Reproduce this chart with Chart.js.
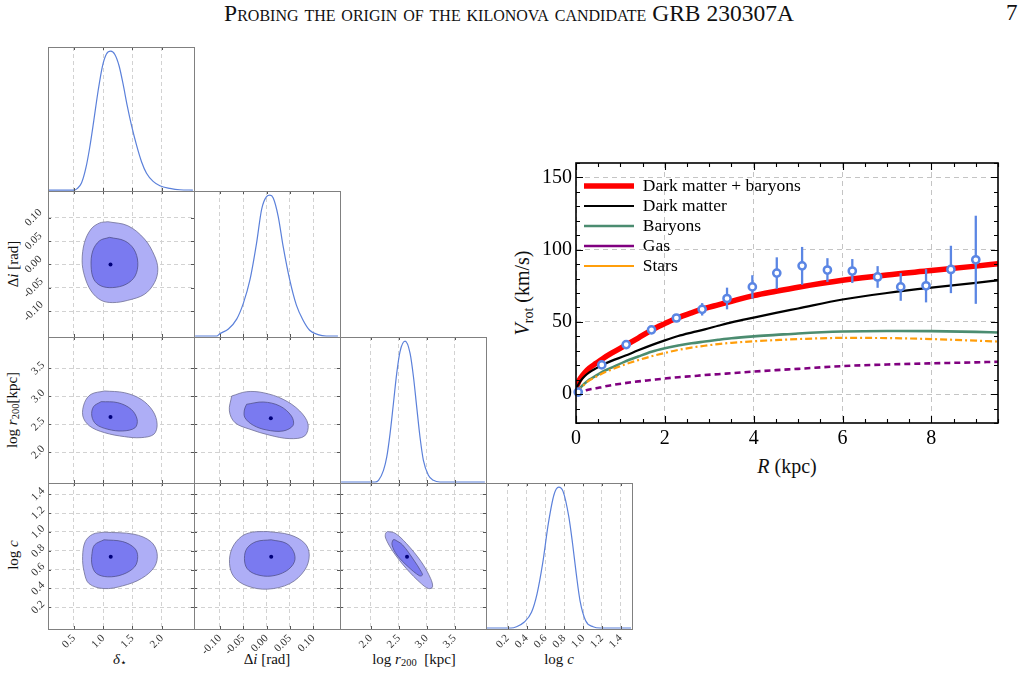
<!DOCTYPE html>
<html><head><meta charset="utf-8">
<script src="https://cdn.jsdelivr.net/npm/chart.js@4.4.1/dist/chart.umd.min.js"></script>
<style>
html,body{margin:0;padding:0;background:#fff;}
#page{position:relative;width:1028px;height:675px;overflow:hidden;background:#fff;font-family:'Liberation Serif',serif;color:#111;}
#page canvas{position:absolute;}
.lbl{position:absolute;white-space:nowrap;line-height:1;transform:translate(-50%,-50%);}
.rot{transform:translate(-50%,-50%) rotate(-90deg);}
.lbl sub{font-size:70%;vertical-align:-0.28em;line-height:0;}
#header{position:absolute;left:0;top:0;width:1018px;text-align:center;font-size:23.5px;line-height:26px;font-variant:small-caps;color:#111;}
#pnum{position:absolute;left:1006px;top:0;font-size:23px;line-height:26px;color:#111;}
</style></head><body><div id="page">
<div id="header">Probing the origin of the kilonova candidate GRB 230307A</div>
<div id="pnum">7</div>
<div class="lbl" style="left:120px;top:659px;font-size:15px;"><i>δ</i><sub>⋆</sub></div>
<div class="lbl" style="left:267px;top:659px;font-size:15px;">Δ<i>i</i> [rad]</div>
<div class="lbl" style="left:414px;top:659px;font-size:15px;">log <i>r</i><sub>200</sub>&nbsp;&nbsp;[kpc]</div>
<div class="lbl" style="left:559px;top:659px;font-size:15px;">log <i>c</i></div>
<div class="lbl rot" style="left:13px;top:264px;font-size:15px;">Δ<i>i</i> [rad]</div>
<div class="lbl rot" style="left:12px;top:410px;font-size:15px;">log <i>r</i><sub>200</sub>[kpc]</div>
<div class="lbl rot" style="left:13px;top:555px;font-size:15px;">log <i>c</i></div>
<div class="lbl rot" style="left:522px;top:293px;font-size:20px;"><i>V</i><sub>rot</sub> (km/s)</div>
<div class="lbl" style="left:787px;top:466px;font-size:20px;"><i>R</i> (kpc)</div>
</div>
<script>
// ================= DATA =================
// Corner plot tick values
const deltaStarTicks = [0.5, 1.0, 1.5, 2.0];
const deltaIncTicks = [-0.10, -0.05, 0.00, 0.05, 0.10];
const logR200Ticks = [2.0, 2.5, 3.0, 3.5];
const logCTicks = [0.2, 0.4, 0.6, 0.8, 1.0, 1.2, 1.4];
// Corner plot axis ranges
const deltaStarRange = [0.06, 2.55];
const deltaIncRange = [-0.155, 0.157];
const logR200Range = [1.45, 4.06];
const logCRange = [-0.03, 1.52];
const densityRange = [-0.007, 1.03];

// 1D marginal posteriors (normalised)
const m_ds_x = [0.07, 0.50, 0.557, 0.631, 0.705, 0.773, 0.841, 0.915, 0.989, 1.057, 1.131, 1.200, 1.273, 1.342, 1.410, 1.484, 1.570, 1.655, 1.740, 1.853, 1.968, 2.138, 2.309, 2.53];
const m_ds_y = [0, 0, 0.01, 0.05, 0.157, 0.31, 0.50, 0.715, 0.893, 0.98, 1.0, 0.976, 0.893, 0.76, 0.61, 0.466, 0.323, 0.204, 0.121, 0.062, 0.031, 0.012, 0.002, 0];
const m_di_x = [-0.1526, -0.1064, -0.0994, -0.0815, -0.0638, -0.0496, -0.0355, -0.0213, -0.0106, 0.0, 0.007, 0.0143, 0.0249, 0.0355, 0.0496, 0.0638, 0.0781, 0.0921, 0.110, 0.1277, 0.1526];
const m_di_y = [0, 0, 0.017, 0.05, 0.12, 0.232, 0.398, 0.66, 0.898, 0.99, 1.0, 0.98, 0.85, 0.636, 0.398, 0.219, 0.112, 0.041, 0.01, 0, 0];
const m_r_x = [1.47, 2.077, 2.138, 2.227, 2.286, 2.345, 2.405, 2.464, 2.523, 2.613, 2.702, 2.763, 2.821, 2.880, 2.941, 3.030, 3.120, 3.238, 4.04];
const m_r_y = [0, 0, 0.012, 0.083, 0.178, 0.344, 0.558, 0.772, 0.926, 1.0, 0.915, 0.748, 0.534, 0.320, 0.154, 0.048, 0.012, 0, 0];
const m_c_x = [-0.02, 0.235, 0.294, 0.374, 0.453, 0.512, 0.571, 0.632, 0.691, 0.742, 0.789, 0.849, 0.889, 0.928, 0.968, 1.028, 1.107, 1.186, 1.51];
const m_c_y = [0, 0, 0.009, 0.041, 0.112, 0.243, 0.457, 0.743, 0.945, 1.0, 0.969, 0.791, 0.6, 0.386, 0.195, 0.052, 0.009, 0, 0];

// 2D credible contours [x, y]
const c_dsdi_outer = [[1.080,0.0914],[1.421,0.0828],[1.706,0.0543],[1.877,0.0185],[1.933,-0.0101],[1.877,-0.0386],[1.706,-0.0637],[1.421,-0.0766],[1.166,-0.0815],[0.966,-0.0766],[0.795,-0.0567],[0.683,-0.0245],[0.642,0.0077],[0.683,0.0472],[0.795,0.0757],[0.939,0.0886]];
const c_dsdi_inner = [[1.109,0.0579],[1.365,0.0506],[1.524,0.0328],[1.592,0.0043],[1.546,-0.0245],[1.392,-0.0423],[1.166,-0.0494],[0.966,-0.0459],[0.841,-0.0315],[0.795,-0.0030],[0.824,0.0292],[0.939,0.0506]];
const ctr_dsdi = [1.126, 0.0];
const c_dsr_outer = [[1.024,3.095],[1.365,3.064],[1.648,2.946],[1.848,2.738],[1.921,2.500],[1.865,2.321],[1.648,2.261],[1.365,2.279],[1.024,2.350],[0.768,2.470],[0.654,2.648],[0.683,2.886],[0.795,3.036]];
const c_dsr_inner = [[0.966,2.904],[1.251,2.886],[1.478,2.768],[1.580,2.589],[1.546,2.439],[1.336,2.380],[1.080,2.411],[0.881,2.500],[0.807,2.648],[0.836,2.814]];
const ctr_dsr = [1.126, 2.630];
const c_dir_outer = [[-0.0745,3.005],[-0.0426,3.082],[-0.0070,3.064],[0.0355,2.946],[0.0709,2.738],[0.0887,2.500],[0.0815,2.291],[0.0496,2.243],[0.0070,2.304],[-0.0355,2.411],[-0.0674,2.529],[-0.0794,2.738]];
const c_dir_inner = [[-0.0426,2.857],[-0.0070,2.898],[0.0283,2.827],[0.0532,2.648],[0.0568,2.482],[0.0355,2.380],[0.0,2.398],[-0.0283,2.482],[-0.0462,2.618],[-0.0474,2.755]];
const ctr_dir = [0.0092, 2.607];
const c_dsc_outer = [[1.015,0.998],[1.526,0.976],[1.814,0.898],[1.921,0.773],[1.877,0.631],[1.654,0.506],[1.334,0.428],[1.015,0.399],[0.759,0.452],[0.676,0.578],[0.650,0.738],[0.695,0.898],[0.823,0.976]];
const c_dsc_inner = [[1.015,0.917],[1.334,0.898],[1.539,0.827],[1.590,0.738],[1.539,0.631],[1.334,0.549],[1.079,0.524],[0.887,0.559],[0.811,0.649],[0.811,0.773],[0.855,0.863]];
const ctr_dsc = [1.130, 0.738];
const c_dic_outer = [[0.0019,1.005],[0.0498,0.970],[0.0817,0.880],[0.0913,0.756],[0.0817,0.596],[0.0498,0.452],[0.0019,0.393],[-0.0417,0.428],[-0.0696,0.524],[-0.0791,0.666],[-0.0736,0.827],[-0.0536,0.952],[-0.0298,0.998]];
const c_dic_inner = [[0.0100,0.917],[0.0419,0.880],[0.0579,0.791],[0.0596,0.684],[0.0419,0.585],[0.0100,0.532],[-0.0219,0.549],[-0.0417,0.613],[-0.0472,0.720],[-0.0417,0.827],[-0.0219,0.898]];
const ctr_dic = [0.010, 0.738];
const c_rc_outer = [[2.300,1.005],[2.434,0.987],[2.634,0.880],[2.902,0.684],[3.070,0.506],[3.104,0.417],[3.036,0.399],[2.902,0.452],[2.634,0.613],[2.400,0.791],[2.266,0.934],[2.266,0.987]];
const c_rc_inner = [[2.434,0.917],[2.568,0.863],[2.768,0.703],[2.902,0.578],[2.923,0.542],[2.870,0.535],[2.668,0.631],[2.468,0.756],[2.380,0.863],[2.400,0.917]];
const ctr_rc = [2.648, 0.738];

// Rotation curve: observations
const obsR = [0.05, 0.58, 1.13, 1.70, 2.26, 2.84, 3.40, 3.97, 4.52, 5.09, 5.66, 6.22, 6.79, 7.31, 7.88, 8.44, 9.00];
const obsV = [1.4, 20.2, 34.3, 44.5, 52.7, 58.7, 66.2, 74.2, 83.8, 88.8, 85.9, 85.2, 81.1, 74.2, 75.0, 86.3, 93.0];
const obsErr = [0.8, 1.0, 1.3, 1.5, 1.8, 4.3, 7.5, 8.1, 10.9, 13.1, 8.2, 8.3, 7.5, 9.6, 11.5, 16.4, 30.5];
// Rotation curve: models
const modelR   = [0, 0.05, 0.1, 0.2, 0.3, 0.45, 0.6, 0.8, 1.1, 1.4, 1.7, 2.0, 2.3, 2.6, 2.9, 3.2, 3.5, 4.0, 4.5, 5.0, 6.0, 7.0, 8.0, 9.0, 9.5];
const vTotal   = [4, 8, 11, 15, 18, 21.3, 24.5, 28.3, 33.5, 38.8, 44.3, 48.8, 53, 56.3, 59.3, 61.8, 64.3, 68.2, 71.2, 74, 78.8, 82.5, 85.5, 88.6, 90.2];
const vDM      = [4, 6.5, 9, 12.5, 15, 17.8, 20.3, 23, 26.5, 30.3, 33.9, 37.2, 40.2, 42.6, 44.8, 47.3, 49.7, 53, 56.2, 59.3, 65.5, 70, 73.7, 77, 78.8];
const vBaryons = [1, 2.5, 4.5, 7.5, 10, 12.8, 15.5, 18.3, 22.5, 26, 29.3, 31.7, 33.6, 35.2, 36.4, 37.6, 38.7, 40, 41, 42, 43.3, 43.7, 43.6, 43.1, 42.7];
const vGas     = [1, 1.3, 1.8, 2.5, 3.2, 4, 5, 6.2, 7.6, 8.8, 9.8, 10.8, 11.7, 12.4, 13.2, 13.8, 14.5, 15.6, 16.6, 17.5, 19.4, 20.5, 21.3, 22, 22.4];
const vStars   = [1, 2.3, 4, 7, 9.5, 12, 14.5, 17, 20.5, 23.5, 26.2, 28.5, 30.6, 32.2, 33.5, 34.6, 35.5, 36.6, 37.4, 38.1, 38.9, 38.8, 38.1, 37, 36.4];
const seriesLabels = ['Dark matter + baryons', 'Dark matter', 'Baryons', 'Gas', 'Stars'];
const rTicks = [0, 2, 4, 6, 8];
const vTicks = [0, 50, 100, 150];
const rRange = [0, 9.5];
const vRange = [-20, 160];
const rMinorStep = 0.5;
const vMinorStep = 10;

// ================= RENDER =================
const FONT = 'Liberation Serif';
Chart.defaults.font.family = FONT;
Chart.defaults.color = '#000';
const page = document.getElementById('page');
const allCharts = [];

const colX = [48, 194, 340, 486];
const rowY = [47, 191, 337, 483];
const rowH = [144, 146, 146, 146];
const colW = 146;

const params = [
  {ticks: deltaStarTicks, range: deltaStarRange, dec: 1},
  {ticks: deltaIncTicks, range: deltaIncRange, dec: 2},
  {ticks: logR200Ticks, range: logR200Range, dec: 1},
  {ticks: logCTicks, range: logCRange, dec: 1}
];
const marginals = [[m_ds_x, m_ds_y], [m_di_x, m_di_y], [m_r_x, m_r_y], [m_c_x, m_c_y]];
const contourSets = {
  '1-0': [c_dsdi_outer, c_dsdi_inner, ctr_dsdi],
  '2-0': [c_dsr_outer, c_dsr_inner, ctr_dsr],
  '2-1': [c_dir_outer, c_dir_inner, ctr_dir],
  '3-0': [c_dsc_outer, c_dsc_inner, ctr_dsc],
  '3-1': [c_dic_outer, c_dic_inner, ctr_dic],
  '3-2': [c_rc_outer, c_rc_inner, ctr_rc]
};
const toXY = (xs, ys) => xs.map((x, i) => ({x: x, y: ys[i]}));
const closed = pts => pts.concat([pts[0]]).map(p => ({x: p[0], y: p[1]}));

function cornerFrame(diag) {
  return {
    id: 'cornerFrame',
    afterDatasetsDraw(chart) {
      const ctx = chart.ctx, a = chart.chartArea, xs = chart.scales.x, ys = chart.scales.y;
      ctx.save();
      ctx.strokeStyle = '#555'; ctx.lineWidth = 1;
      ctx.beginPath();
      xs.ticks.forEach(t => {
        const p = Math.round(xs.getPixelForValue(t.value)) + 0.5;
        ctx.moveTo(p, a.bottom); ctx.lineTo(p, a.bottom - 3);
        ctx.moveTo(p, a.top); ctx.lineTo(p, a.top + 3);
      });
      if (!diag) {
        ys.ticks.forEach(t => {
          const p = Math.round(ys.getPixelForValue(t.value)) + 0.5;
          ctx.moveTo(a.left, p); ctx.lineTo(a.left + 3, p);
          ctx.moveTo(a.right, p); ctx.lineTo(a.right - 3, p);
        });
      }
      ctx.stroke();
      ctx.strokeStyle = '#808080';
      ctx.strokeRect(Math.round(a.left) + 0.5, Math.round(a.top) + 0.5, Math.round(a.right - a.left), Math.round(a.bottom - a.top));
      ctx.restore();
    }
  };
}

function makePanel(row, col) {
  const diag = row === col;
  const ml = col === 0 ? 48 : 24;
  const mb = row === 3 ? 46 : 2;
  const mr = 2;
  const w = colW + ml + mr, h = rowH[row] + mb;
  const cv = document.createElement('canvas');
  cv.width = w; cv.height = h;
  cv.style.left = (colX[col] - ml) + 'px';
  cv.style.top = rowY[row] + 'px';
  cv.style.width = w + 'px'; cv.style.height = h + 'px';
  page.appendChild(cv);
  const px = params[col];
  const py = diag ? null : params[row];
  let datasets;
  if (diag) {
    datasets = [{
      data: toXY(marginals[col][0], marginals[col][1]), showLine: true,
      borderColor: '#5b80da', borderWidth: 1.2, pointRadius: 0,
      cubicInterpolationMode: 'monotone', fill: false
    }];
  } else {
    const cs = contourSets[row + '-' + col];
    datasets = [
      {data: closed(cs[0]), showLine: true, fill: 'shape', backgroundColor: 'rgb(174,174,246)',
       borderColor: 'rgb(110,110,150)', borderWidth: 0.8, pointRadius: 0, tension: 0.35, order: 3},
      {data: closed(cs[1]), showLine: true, fill: 'shape', backgroundColor: 'rgb(122,122,240)',
       borderColor: 'rgb(80,80,140)', borderWidth: 0.8, pointRadius: 0, tension: 0.35, order: 2},
      {data: [{x: cs[2][0], y: cs[2][1]}], pointRadius: 2, pointBackgroundColor: '#00007a',
       pointBorderWidth: 0, order: 1}
    ];
  }
  const showX = row === 3;
  const showY = col === 0 && !diag;
  allCharts.push(new Chart(cv, {
    type: 'scatter',
    data: {datasets: datasets},
    options: {
      responsive: false, animation: false, devicePixelRatio: 1, events: [],
      font: {family: FONT},
      layout: {padding: {left: 0, top: 0, right: mr, bottom: 0}, autoPadding: false},
      plugins: {legend: {display: false}, tooltip: {enabled: false}},
      scales: {
        x: {
          type: 'linear', position: 'bottom', min: px.range[0], max: px.range[1],
          afterBuildTicks: s => { s.ticks = px.ticks.map(v => ({value: v})); },
          afterFit: s => { s.height = mb; s.paddingLeft = 0; s.paddingRight = 0; s.paddingTop = 0; s.paddingBottom = 0; },
          grid: {display: true, color: '#d2d2d2', lineWidth: 1, drawTicks: false},
          border: {display: false, dash: [4, 3]},
          ticks: {display: showX, autoSkip: false, minRotation: 45, maxRotation: 45, padding: 3,
                  color: '#333', font: {family: FONT, size: 11, style: 'normal', weight: 'normal'},
                  callback: v => Number(v).toFixed(px.dec)}
        },
        y: {
          type: 'linear', position: 'left',
          min: diag ? densityRange[0] : py.range[0], max: diag ? densityRange[1] : py.range[1],
          afterBuildTicks: s => { s.ticks = diag ? [] : py.ticks.map(v => ({value: v})); },
          afterFit: s => { s.width = ml; s.paddingLeft = 0; s.paddingRight = 0; s.paddingTop = 0; s.paddingBottom = 0; },
          grid: {display: !diag, color: '#d2d2d2', lineWidth: 1, drawTicks: false},
          border: {display: false, dash: [4, 3]},
          ticks: {display: showY, autoSkip: false, minRotation: 45, maxRotation: 45, padding: 3,
                  crossAlign: 'center', color: '#333', font: {family: FONT, size: 11, style: 'normal', weight: 'normal'},
                  callback: v => (py ? Number(v).toFixed(py.dec) : '')}
        }
      }
    },
    plugins: [cornerFrame(diag)]
  }));
}

for (let r = 0; r < 4; r++) for (let c = 0; c <= r; c++) makePanel(r, c);

// ----- Rotation curve chart -----
const rcv = document.createElement('canvas');
rcv.width = 540; rcv.height = 360;
rcv.style.left = '480px'; rcv.style.top = '140px';
rcv.style.width = '540px'; rcv.style.height = '360px';
page.appendChild(rcv);

const PT_BLUE = '#5b86e4';
const modelSeries = [vTotal, vDM, vBaryons, vGas, vStars];
const modelStyles = [
  {color: '#ff0000', width: 5.5, dash: []},
  {color: '#000000', width: 2.2, dash: []},
  {color: '#4b8c70', width: 2.6, dash: []},
  {color: '#800080', width: 2.6, dash: [6, 4]},
  {color: '#ff9e0b', width: 2.2, dash: [7, 3, 2, 3]}
];
const rcDatasets = modelSeries.map((vals, i) => ({
  label: seriesLabels[i], data: toXY(modelR, vals), showLine: true,
  borderColor: modelStyles[i].color, backgroundColor: modelStyles[i].color,
  borderWidth: modelStyles[i].width, borderDash: modelStyles[i].dash,
  pointRadius: 0, cubicInterpolationMode: 'monotone', fill: false, order: 10 - i
}));
obsR.forEach((r, i) => {
  rcDatasets.push({
    label: '', data: [{x: r, y: obsV[i] - obsErr[i]}, {x: r, y: obsV[i] + obsErr[i]}],
    showLine: true, borderColor: PT_BLUE, borderWidth: 2.3, pointRadius: 0, fill: false, order: 1
  });
});
rcDatasets.push({
  label: '', data: toXY(obsR, obsV), showLine: false, pointRadius: 3.6, pointBorderWidth: 2.5,
  pointBackgroundColor: '#ffffff', pointBorderColor: PT_BLUE, order: 0, clip: false
});

const rcFrame = {
  id: 'rcFrame',
  afterLayout(chart) {
    const l = chart.legend, a = chart.chartArea;
    if (l && a) {
      l.left = a.left + 5.5;
      l.top = a.top + 11.75;
      l.bottom = l.top + (a.bottom - a.top);
    }
  },
  afterDraw(chart) {
    const ctx = chart.ctx, a = chart.chartArea, xs = chart.scales.x, ys = chart.scales.y;
    ctx.save();
    ctx.strokeStyle = '#000'; ctx.lineWidth = 1.1;
    ctx.beginPath();
    for (let v = xs.min; v <= xs.max + 1e-9; v += rMinorStep) {
      const major = rTicks.some(t => Math.abs(t - v) < 1e-6);
      const L = major ? 7 : 4;
      const p = Math.round(xs.getPixelForValue(v)) + 0.5;
      ctx.moveTo(p, a.bottom); ctx.lineTo(p, a.bottom - L);
      ctx.moveTo(p, a.top); ctx.lineTo(p, a.top + L);
    }
    for (let v = ys.min; v <= ys.max + 1e-9; v += vMinorStep) {
      const major = vTicks.some(t => Math.abs(t - v) < 1e-6);
      const L = major ? 7 : 4;
      const p = Math.round(ys.getPixelForValue(v)) + 0.5;
      ctx.moveTo(a.left, p); ctx.lineTo(a.left + L, p);
      ctx.moveTo(a.right, p); ctx.lineTo(a.right - L, p);
    }
    ctx.stroke();
    ctx.lineWidth = 1.6;
    ctx.strokeRect(a.left, a.top, a.right - a.left, a.bottom - a.top);
    ctx.restore();
  }
};

allCharts.push(new Chart(rcv, {
  type: 'scatter',
  data: {datasets: rcDatasets},
  options: {
    responsive: false, animation: false, devicePixelRatio: 1, events: [],
    font: {family: FONT},
    layout: {padding: {left: 0, top: 23, right: 22, bottom: 0}, autoPadding: false},
    plugins: {
      tooltip: {enabled: false},
      legend: {
        position: 'chartArea', align: 'start',
        labels: {
          usePointStyle: true, pointStyle: 'line', pointStyleWidth: 50, padding: 2.5, color: '#000',
          font: {family: FONT, size: 17.5, lineHeight: 1, style: 'normal', weight: 'normal'},
          filter: item => item.text !== '',
          sort: (a, b) => a.datasetIndex - b.datasetIndex
        }
      }
    },
    scales: {
      x: {
        type: 'linear', position: 'bottom', min: rRange[0], max: rRange[1],
        afterBuildTicks: s => { s.ticks = rTicks.map(v => ({value: v})); },
        afterFit: s => { s.height = 77; s.paddingLeft = 0; s.paddingRight = 0; s.paddingTop = 0; s.paddingBottom = 0; },
        grid: {color: '#c4c4c4', lineWidth: 1, drawTicks: false},
        border: {display: false, dash: [5, 4]},
        ticks: {autoSkip: false, maxRotation: 0, minRotation: 0, padding: 4, color: '#000',
                font: {family: FONT, size: 20, style: 'normal', weight: 'normal'}, callback: v => String(v)}
      },
      y: {
        type: 'linear', position: 'left', min: vRange[0], max: vRange[1],
        afterBuildTicks: s => { s.ticks = vTicks.map(v => ({value: v})); },
        afterFit: s => { s.width = 96; s.paddingLeft = 0; s.paddingRight = 0; s.paddingTop = 0; s.paddingBottom = 0; },
        grid: {color: '#c4c4c4', lineWidth: 1, drawTicks: false},
        border: {display: false, dash: [5, 4]},
        ticks: {autoSkip: false, padding: 4, color: '#000',
                font: {family: FONT, size: 20, style: 'normal', weight: 'normal'}, callback: v => String(v)}
      }
    }
  },
  plugins: [rcFrame]
}));
</script>
</body></html>
